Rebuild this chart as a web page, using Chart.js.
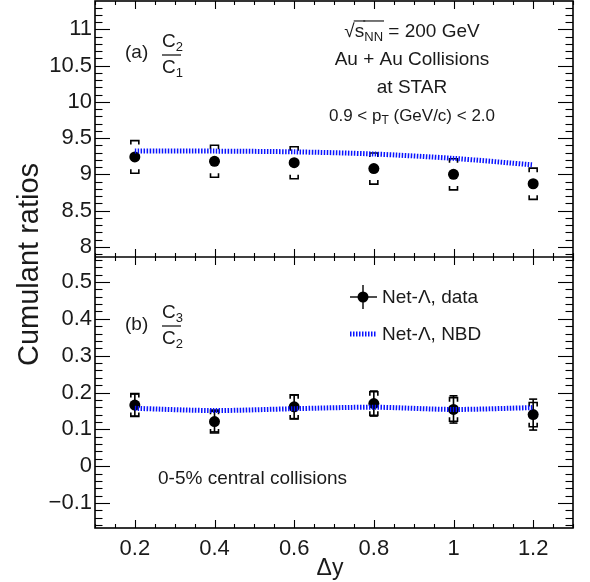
<!DOCTYPE html>
<html><head><meta charset="utf-8">
<script src="https://cdn.jsdelivr.net/npm/chart.js@4.4.1/dist/chart.umd.min.js"></script>
<style>html,body{margin:0;padding:0;background:#fff}#wrap{width:590px;height:582px;position:relative}</style>
</head><body><div id="wrap"><canvas id="c" width="590" height="582"></canvas></div>
<script>
// ---- data ----
const deltaY = [0.2, 0.4, 0.6, 0.8, 1.0, 1.2];
const c2c1Values = [9.24, 9.18, 9.16, 9.08, 9.00, 8.87];
const c2c1Stat = [0.02, 0.02, 0.02, 0.02, 0.02, 0.02];
const c2c1Sys = [0.225, 0.22, 0.22, 0.215, 0.215, 0.215];
const c2c1NBD = [9.32, 9.32, 9.31, 9.28, 9.22, 9.13];
const c3c2Values = [0.166, 0.121, 0.161, 0.170, 0.154, 0.140];
const c3c2Stat = [0.030, 0.028, 0.032, 0.034, 0.037, 0.042];
const c3c2Sys = [0.031, 0.031, 0.033, 0.032, 0.032, 0.033];
const c3c2NBD = [0.157, 0.151, 0.156, 0.160, 0.154, 0.159];
const xTickValues = [0.2, 0.4, 0.6, 0.8, 1.0, 1.2];
const xTickLabels = ['0.2', '0.4', '0.6', '0.8', '1', '1.2'];
const topTickValues = [8, 8.5, 9, 9.5, 10, 10.5, 11];
const topTickLabels = ['8', '8.5', '9', '9.5', '10', '10.5', '11'];
const bottomTickValues = [-0.1, 0, 0.1, 0.2, 0.3, 0.4, 0.5];
const bottomTickLabels = ['\u22120.1', '0', '0.1', '0.2', '0.3', '0.4', '0.5'];

const FONT = '"Liberation Sans", Arial, Helvetica, sans-serif';
const TXT = '#1a1a1a';
const BLUE = '#0a14ff';

const pts = (vals) => deltaY.map((x, i) => ({x, y: vals[i]}));

function line(ctx, x1, y1, x2, y2) { ctx.beginPath(); ctx.moveTo(x1, y1); ctx.lineTo(x2, y2); ctx.stroke(); }

function drawRich(ctx, parts, cx, cy, size, align) {
  const subSize = Math.round(size * 0.7);
  let w = 0;
  const ms = parts.map(p => { ctx.font = (p.sub ? subSize : size) + 'px ' + FONT; const m = ctx.measureText(p.t).width; w += m; return m; });
  let x = align === 'left' ? cx : cx - w / 2;
  ctx.textBaseline = 'middle'; ctx.textAlign = 'left'; ctx.fillStyle = TXT;
  parts.forEach((p, i) => {
    ctx.font = (p.sub ? subSize : size) + 'px ' + FONT;
    ctx.fillText(p.t, x, p.sub ? cy + size * 0.3 : cy);
    if (p.bar) { ctx.save(); ctx.strokeStyle = TXT; ctx.lineWidth = 1.2; line(ctx, x - 1, cy - size * 0.58, x + ms[i] + 1, cy - size * 0.58); ctx.restore(); }
    x += ms[i];
  });
}

function drawFrac(ctx, x, cy, num, den, size) {
  drawRich(ctx, [{t: 'C'}, {t: num, sub: true}], x, cy - 12, size, 'left');
  ctx.save(); ctx.strokeStyle = TXT; ctx.lineWidth = 1.3;
  line(ctx, x, cy + 1, x + 19, cy + 1); ctx.restore();
  drawRich(ctx, [{t: 'C'}, {t: den, sub: true}], x, cy + 14, size, 'left');
}

function drawErrors(ctx, xs, ys, vals, stat, sys) {
  ctx.save(); ctx.strokeStyle = '#000'; ctx.lineWidth = 1.6;
  deltaY.forEach((xv, i) => {
    const px = xs.getPixelForValue(xv);
    const pu = ys.getPixelForValue(vals[i] + stat[i]);
    const pd = ys.getPixelForValue(vals[i] - stat[i]);
    line(ctx, px, pu, px, pd);
    if (Math.abs(pd - pu) > 12) { line(ctx, px - 4, pu, px + 4, pu); line(ctx, px - 4, pd, px + 4, pd); }
    const su = ys.getPixelForValue(vals[i] + sys[i]);
    const sd = ys.getPixelForValue(vals[i] - sys[i]);
    ctx.beginPath(); ctx.moveTo(px - 4, su + 4); ctx.lineTo(px - 4, su); ctx.lineTo(px + 4, su); ctx.lineTo(px + 4, su + 4); ctx.stroke();
    ctx.beginPath(); ctx.moveTo(px - 4, sd - 4); ctx.lineTo(px - 4, sd); ctx.lineTo(px + 4, sd); ctx.lineTo(px + 4, sd - 4); ctx.stroke();
  });
  ctx.restore();
}

const framePlugin = {
  id: 'frame',
  beforeDatasetsDraw(chart) {
    const ctx = chart.ctx, xs = chart.scales.x;
    drawErrors(ctx, xs, chart.scales.yTop, c2c1Values, c2c1Stat, c2c1Sys);
    drawErrors(ctx, xs, chart.scales.yBot, c3c2Values, c3c2Stat, c3c2Sys);
  },
  afterDraw(chart) {
    const ctx = chart.ctx, a = chart.chartArea, xs = chart.scales.x;
    const yT = chart.scales.yTop, yB = chart.scales.yBot;
    ctx.save();
    ctx.strokeStyle = '#000'; ctx.lineWidth = 1.1;
    for (const [sc, major, minor] of [[yT, 0.5, 0.1], [yB, 0.1, 0.02]]) {
      const k0 = Math.ceil(sc.min / minor - 1e-6);
      for (let k = k0; k * minor <= sc.max + 1e-9; k++) {
        const v = k * minor;
        const isMajor = Math.abs(v / major - Math.round(v / major)) < 1e-6;
        const len = isMajor ? 15 : 7.5;
        const py = Math.round(sc.getPixelForValue(v)) + 0.5;
        line(ctx, a.left, py, a.left + len, py);
        line(ctx, a.right, py, a.right - len, py);
      }
    }
    const borders = [[yT.top, 1], [yT.bottom, -1], [yB.top, 1], [yB.bottom, -1]];
    for (let k = Math.ceil(xs.min / 0.05 - 1e-6); k * 0.05 <= xs.max + 1e-9; k++) {
      const v = k * 0.05;
      const isMajor = Math.abs(v / 0.2 - Math.round(v / 0.2)) < 1e-6;
      const len = isMajor ? 8 : 4;
      const px = Math.round(xs.getPixelForValue(v)) + 0.5;
      for (const [by, dir] of borders) line(ctx, px, by, px, by + dir * len);
    }
    ctx.lineWidth = 1.6;
    ctx.strokeRect(a.left, a.top, a.right - a.left, a.bottom - a.top);
    line(ctx, a.left, yT.bottom, a.right, yT.bottom);
    ctx.restore();

    ctx.save();
    ctx.fillStyle = TXT; ctx.font = '29px ' + FONT; ctx.textAlign = 'center'; ctx.textBaseline = 'middle';
    ctx.translate(30, (a.top + a.bottom) / 2); ctx.rotate(-Math.PI / 2);
    ctx.fillText('Cumulant ratios', 0, 0);
    ctx.restore();
    ctx.save();
    ctx.fillStyle = TXT; ctx.font = '23px ' + FONT; ctx.textAlign = 'center'; ctx.textBaseline = 'middle';
    ctx.fillText('\u0394y', 330, 569);
    ctx.restore();

    ctx.save();
    drawRich(ctx, [{t: '(a)'}], 125, 53, 19, 'left');
    drawFrac(ctx, 162, 54, '2', '1', 19);
    drawRich(ctx, [{t: '(b)'}], 125, 325, 19, 'left');
    drawFrac(ctx, 162, 325, '3', '2', 19);
    drawRich(ctx, [{t: '\u221A'}, {t: 's', bar: true}, {t: 'NN', sub: true, bar: true}, {t: ' = 200 GeV'}], 412, 32, 19);
    drawRich(ctx, [{t: 'Au + Au Collisions'}], 412, 60, 19);
    drawRich(ctx, [{t: 'at STAR'}], 412, 88, 19);
    drawRich(ctx, [{t: '0.9 < p'}, {t: 'T', sub: true}, {t: ' (GeV/c) < 2.0'}], 412, 116, 17);
    drawRich(ctx, [{t: '0-5% central collisions'}], 158, 479, 19, 'left');
    ctx.strokeStyle = '#000'; ctx.lineWidth = 1.4;
    line(ctx, 350, 297, 377, 297); line(ctx, 363, 285, 363, 309);
    ctx.fillStyle = '#000'; ctx.beginPath(); ctx.arc(363, 297, 5.5, 0, Math.PI * 2); ctx.fill();
    drawRich(ctx, [{t: 'Net-\u039B, data'}], 382, 298, 19, 'left');
    ctx.strokeStyle = BLUE; ctx.lineWidth = 5; ctx.setLineDash([1.5, 1.5]);
    line(ctx, 350, 334, 377, 334); ctx.setLineDash([]);
    drawRich(ctx, [{t: 'Net-\u039B, NBD'}], 382, 335, 19, 'left');
    ctx.restore();
  }
};

const tickFont = {family: FONT, size: 22};
const noPad = s => { s.paddingTop = 0; s.paddingBottom = 0; };

new Chart(document.getElementById('c'), {
  type: 'scatter',
  data: {
    datasets: [
      {label: 'C2/C1 NBD', data: pts(c2c1NBD), yAxisID: 'yTop', showLine: true, borderColor: BLUE, borderWidth: 5, borderDash: [1.5, 1.5], pointRadius: 0, tension: 0.3, order: 0},
      {label: 'C3/C2 NBD', data: pts(c3c2NBD), yAxisID: 'yBot', showLine: true, borderColor: BLUE, borderWidth: 5, borderDash: [1.5, 1.5], pointRadius: 0, tension: 0.3, order: 0},
      {label: 'C2/C1 data', data: pts(c2c1Values), yAxisID: 'yTop', pointRadius: 5.5, pointBackgroundColor: '#000', pointBorderColor: '#000', pointBorderWidth: 0, order: 1},
      {label: 'C3/C2 data', data: pts(c3c2Values), yAxisID: 'yBot', pointRadius: 5.5, pointBackgroundColor: '#000', pointBorderColor: '#000', pointBorderWidth: 0, order: 1}
    ]
  },
  options: {
    responsive: false, animation: false, devicePixelRatio: 1,
    layout: {autoPadding: false, padding: {top: 1, right: 17, left: 0, bottom: 0}},
    plugins: {legend: {display: false}, tooltip: {enabled: false}},
    scales: {
      x: {
        type: 'linear', min: 0.1, max: 1.3,
        grid: {display: false, drawTicks: false}, border: {display: false},
        afterBuildTicks: s => { s.ticks = xTickValues.map(v => ({value: v})); },
        ticks: {font: tickFont, color: TXT, padding: 8, maxRotation: 0, autoSkip: false, callback: (v, i) => xTickLabels[i]},
        afterFit: s => { s.height = 54; s.paddingLeft = 0; s.paddingRight = 0; }
      },
      yBot: {
        type: 'linear', position: 'left', stack: 'panels', stackWeight: 271, weight: 1,
        min: -0.168, max: 0.568,
        grid: {display: false, drawTicks: false}, border: {display: false},
        afterBuildTicks: s => { s.ticks = bottomTickValues.map(v => ({value: v})); },
        ticks: {font: tickFont, color: TXT, padding: 3, autoSkip: false, callback: (v, i) => bottomTickLabels[i]},
        afterFit: s => { s.width = 95; noPad(s); }
      },
      yTop: {
        type: 'linear', position: 'left', stack: 'panels', stackWeight: 256, weight: 2,
        min: 7.86, max: 11.39,
        grid: {display: false, drawTicks: false}, border: {display: false},
        afterBuildTicks: s => { s.ticks = topTickValues.map(v => ({value: v})); },
        ticks: {font: tickFont, color: TXT, padding: 3, autoSkip: false, callback: (v, i) => topTickLabels[i]},
        afterFit: s => { s.width = 95; noPad(s); }
      }
    }
  },
  plugins: [framePlugin]
});
</script>
</body></html>
